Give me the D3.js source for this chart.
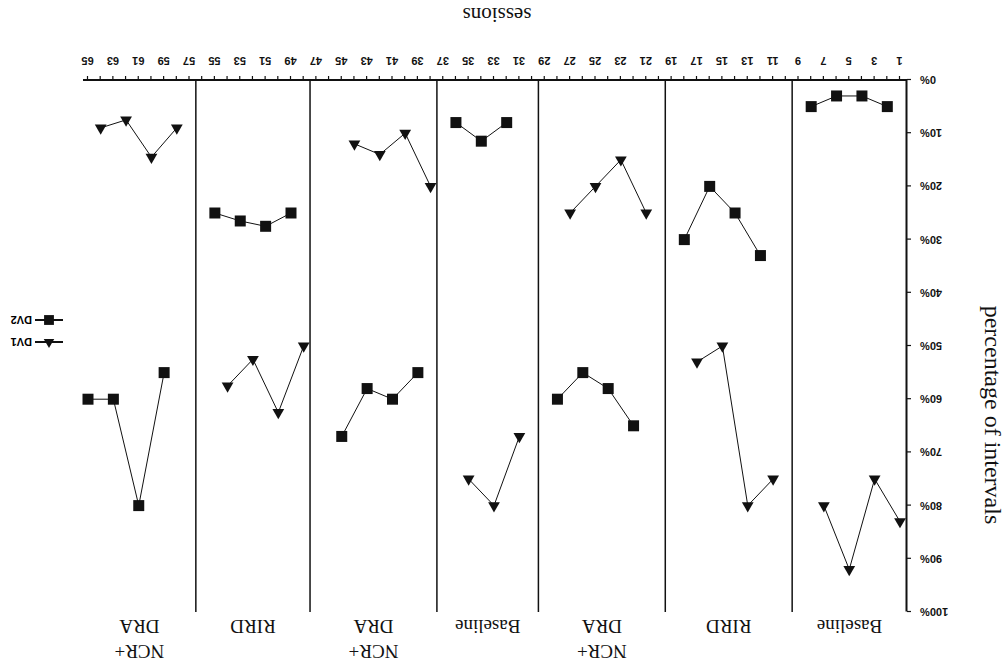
<!DOCTYPE html>
<meta charset="utf-8">
<html>
<head>
  <script src="https://d3js.org/d3.v7.min.js"></script>
  <style>
    body { margin: 0; background: #fff; }
    .tick text { font-family: 'Liberation Sans', sans-serif; font-weight: 700; font-size: 11px; fill: #111; }
    .tick line { stroke: #111; stroke-width: 1.2; }
    .axis path { stroke: #111; stroke-width: 2; }
    .phase-line { stroke: #111; stroke-width: 1.5; }
    .series { fill: none; stroke: #111; stroke-width: 1; }
    .label { font-family: 'Liberation Serif', serif; fill: #111; }
  </style>
</head>
<body>
<script>
  var dv1Sessions = [1, 3, 5, 7, 11, 13, 15, 17, 21, 23, 25, 27, 31, 33, 35, 38, 40, 42, 44, 48, 50, 52, 54, 58, 60, 62, 64];
  var dv1Values = [83, 75, 92, 80, 75, 80, 50, 53, 25, 15, 20, 25, 67, 80, 75, 20, 10, 14, 12, 50, 62.5, 52.5, 57.5, 9, 14.5, 7.5, 9];
  var dv2Sessions = [2, 4, 6, 8, 12, 14, 16, 18, 22, 24, 26, 28, 32, 34, 36, 39, 41, 43, 45, 49, 51, 53, 55, 59, 61, 63, 65];
  var dv2Values = [5, 3, 3, 5, 33, 25, 20, 30, 65, 58, 55, 60, 8, 11.5, 8, 55, 60, 58, 67, 25, 27.5, 26.5, 25, 55, 80, 60, 60];

  var phaseNames = [["Baseline"], ["RIRD"], ["NCR+", "DRA"], ["Baseline"], ["NCR+", "DRA"], ["RIRD"], ["NCR+", "DRA"]];
  var phaseBreaks = [9.5, 19.5, 29.5, 37.5, 47.5, 56.5];

  var xTickLabels = [1, 3, 5, 7, 9, 11, 13, 15, 17, 19, 21, 23, 25, 27, 29, 31, 33, 35, 37, 39, 41, 43, 45, 47, 49, 51, 53, 55, 57, 59, 61, 63, 65];
  var yTicks = [0, 10, 20, 30, 40, 50, 60, 70, 80, 90, 100];

  var W = 1007, H = 664;

  var svg = d3.select("body").append("svg")
    .attr("width", W)
    .attr("height", H);

  svg.append("rect").attr("width", W).attr("height", H).attr("fill", "#fff");

  // the whole figure is drawn normally, then turned over like the scan
  var g = svg.append("g")
    .attr("transform", `rotate(180 ${W / 2} ${H / 2})`);

  var x = d3.scaleLinear().domain([1, 65]).range([107, 919]);
  var y = d3.scaleLinear().domain([0, 100]).range([584, 52]);

  var axisLeftX = 100, axisRightX = 924;

  // X axis
  var xAxis = g.append("g")
    .attr("class", "axis")
    .attr("transform", `translate(0, ${y(0)})`)
    .call(d3.axisBottom(x)
      .tickValues(d3.range(1, 66))
      .tickFormat(d => xTickLabels.includes(d) ? d : "")
      .tickSize(4)
      .tickPadding(11)
      .tickSizeOuter(0));
  xAxis.select(".domain").remove();
  g.append("line")
    .attr("x1", axisLeftX).attr("x2", axisRightX)
    .attr("y1", y(0)).attr("y2", y(0))
    .attr("stroke", "#111").attr("stroke-width", 2);

  // Y axis
  g.append("g")
    .attr("class", "axis")
    .attr("transform", `translate(${axisLeftX}, 0)`)
    .call(d3.axisLeft(y)
      .tickValues(yTicks)
      .tickFormat(d => d + "%")
      .tickSize(4)
      .tickPadding(9)
      .tickSizeOuter(0));

  // phase change lines
  g.selectAll(".phase-line")
    .data(phaseBreaks)
    .enter()
    .append("line")
    .attr("class", "phase-line")
    .attr("x1", d => x(d)).attr("x2", d => x(d))
    .attr("y1", y(0)).attr("y2", y(100));

  // phase labels
  var bounds = [axisLeftX].concat(phaseBreaks.map(b => x(b)), [axisRightX]);
  phaseNames.forEach((lines, i) => {
    var cx = (bounds[i] + bounds[i + 1]) / 2;
    var t = g.append("text")
      .attr("class", "label")
      .attr("text-anchor", "middle")
      .style("font-size", "19px");
    lines.forEach((ln, j) => {
      t.append("tspan")
        .attr("x", cx)
        .attr("y", 44 - (lines.length - 1 - j) * 25)
        .text(ln);
    });
  });

  // split series by phase so lines break at phase changes
  function phaseOf(s) { return d3.bisectLeft(phaseBreaks, s); }
  function pack(sessions, values) {
    return d3.groups(sessions.map((s, i) => ({ s: s, v: values[i] })), d => phaseOf(d.s)).map(p => p[1]);
  }

  var line = d3.line().x(d => x(d.s)).y(d => y(d.v));

  var series = [
    { name: "DV1", data: pack(dv1Sessions, dv1Values), symbol: d3.symbolTriangle, size: 60 },
    { name: "DV2", data: pack(dv2Sessions, dv2Values), symbol: d3.symbolSquare, size: 121 }
  ];

  series.forEach(sr => {
    g.selectAll(null)
      .data(sr.data)
      .enter()
      .append("path")
      .attr("class", "series")
      .attr("d", line);

    g.selectAll(null)
      .data(sr.data.flat())
      .enter()
      .append("path")
      .attr("d", d3.symbol().type(sr.symbol).size(sr.size))
      .attr("transform", d => `translate(${x(d.s)}, ${y(d.v)})`)
      .attr("fill", "#111");
  });

  // legend
  series.forEach((sr, i) => {
    var ly = 322 + i * 22;
    g.append("line")
      .attr("x1", 944).attr("x2", 972)
      .attr("y1", ly).attr("y2", ly)
      .attr("stroke", "#111").attr("stroke-width", 2);
    g.append("path")
      .attr("d", d3.symbol().type(sr.symbol).size(sr.size * 0.8))
      .attr("transform", `translate(958, ${ly})`)
      .attr("fill", "#111");
    g.append("text")
      .attr("x", 975).attr("y", ly)
      .attr("dy", "0.35em")
      .style("font-family", "'Liberation Sans', sans-serif")
      .style("font-weight", "700")
      .style("font-size", "11px")
      .text(sr.name);
  });

  // axis titles
  g.append("text")
    .attr("class", "label")
    .attr("text-anchor", "middle")
    .attr("transform", "translate(22, 249) rotate(-90)")
    .style("font-size", "24px")
    .text("percentage of intervals");

  g.append("text")
    .attr("class", "label")
    .attr("text-anchor", "middle")
    .attr("x", 510).attr("y", 656)
    .style("font-size", "21px")
    .text("sessions");
</script>
</body>
</html>
